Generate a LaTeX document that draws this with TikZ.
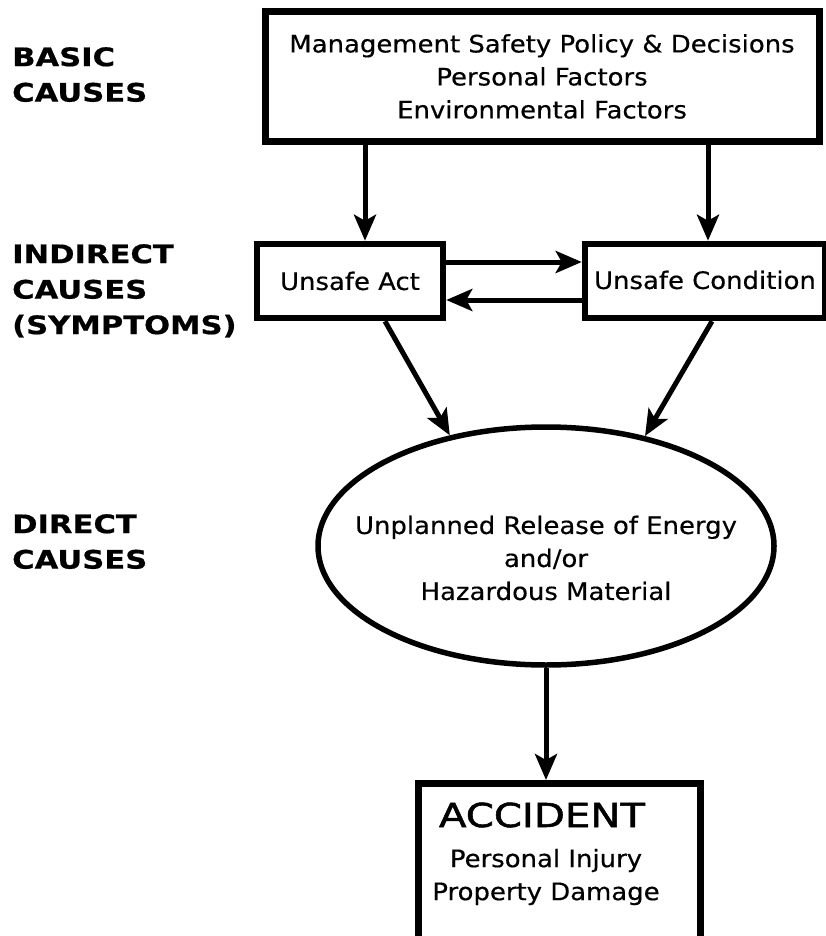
\documentclass[tikz,border=0pt]{standalone}
\usepackage{fontspec}
\setmainfont{DejaVu Sans}[FakeStretch=1.08,FakeBold=0.4]
\newfontfamily\labf{DejaVu Sans}[FakeStretch=1.2,FakeBold=0.6]
\newfontfamily\accf{DejaVu Sans}[FakeStretch=1.22,FakeBold=1.6]
\usetikzlibrary{shapes.geometric,arrows.meta}
\tikzset{
  body/.style={font=\fontsize{24}{33}\selectfont, align=center, inner sep=0pt},
  lab/.style={font=\labf\bfseries\fontsize{25.5}{35.5}\selectfont, align=left, anchor=north west, inner sep=0pt},
  bigbox/.style={draw, line width=7pt, inner sep=0pt},
  smallbox/.style={draw, line width=6.5pt, inner sep=0pt},
  arr/.style={line width=5pt, -{Stealth[length=26pt,width=22pt,inset=6pt]}},
}
\begin{document}
\begin{tikzpicture}[x=1pt,y=-1pt]
\useasboundingbox[fill=white] (0,0) rectangle (826,936);
% left labels
\node[lab] (lbasic) at (12,47) {BASIC\\CAUSES};
\node[lab] (lind) at (12,244) {INDIRECT\\CAUSES\\(SYMPTOMS)};
\node[lab] (ldir) at (12,514) {DIRECT\\CAUSES};
% top box
\node[bigbox, minimum width=554pt, minimum height=130pt] (top) at (542,76.5) {};
\node[body] (toptxt) at (top.center) {Management Safety Policy \& Decisions\\Personal Factors\\Environmental Factors};
% unsafe boxes
\node[smallbox, minimum width=186pt, minimum height=74pt] (act) at (350,281) {};
\node[body] (acttxt) at (act.center) {Unsafe Act};
\node[smallbox, minimum width=240pt, minimum height=74pt] (cond) at (705,281) {};
\node[body] (condtxt) at (705,280) {Unsafe Condition};
% ellipse
\node[draw, ellipse, line width=5.5pt, minimum width=456pt, minimum height=238pt, inner sep=0pt] (rel) at (546,546) {};
\node[body] (reltxt) at (546,558) {Unplanned Release of Energy\\and/or\\Hazardous Material};
% accident box
\node[bigbox, minimum width=282pt, minimum height=220pt, anchor=north] (acc) at (559,780) {};
\node[font=\accf\fontsize{33}{36}\selectfont, inner sep=0pt] (acctitle) at (542,815) {ACCIDENT};
\node[body] (accsub) at (546,877) {Personal Injury\\Property Damage};
% connectors
\coordinate (xa) at (365,0);
\coordinate (xb) at (708,0);
\coordinate (ya) at (0,262);
\coordinate (yb) at (0,300);
\coordinate (da) at (385,0);
\coordinate (db) at (712,0);
\draw[arr] (top.south -| xa) -- (act.north -| xa);
\draw[arr] (top.south -| xb) -- (cond.north -| xb);
\draw[arr] (act.east |- ya) -- (cond.west |- ya);
\draw[arr] (cond.west |- yb) -- (act.east |- yb);
\draw[arr] (act.south -| da) -- (rel.131);
\draw[arr] (cond.south -| db) -- (rel.48);
\draw[arr] (rel.south) -- (acc.north -| rel.south);
\end{tikzpicture}
\end{document}
